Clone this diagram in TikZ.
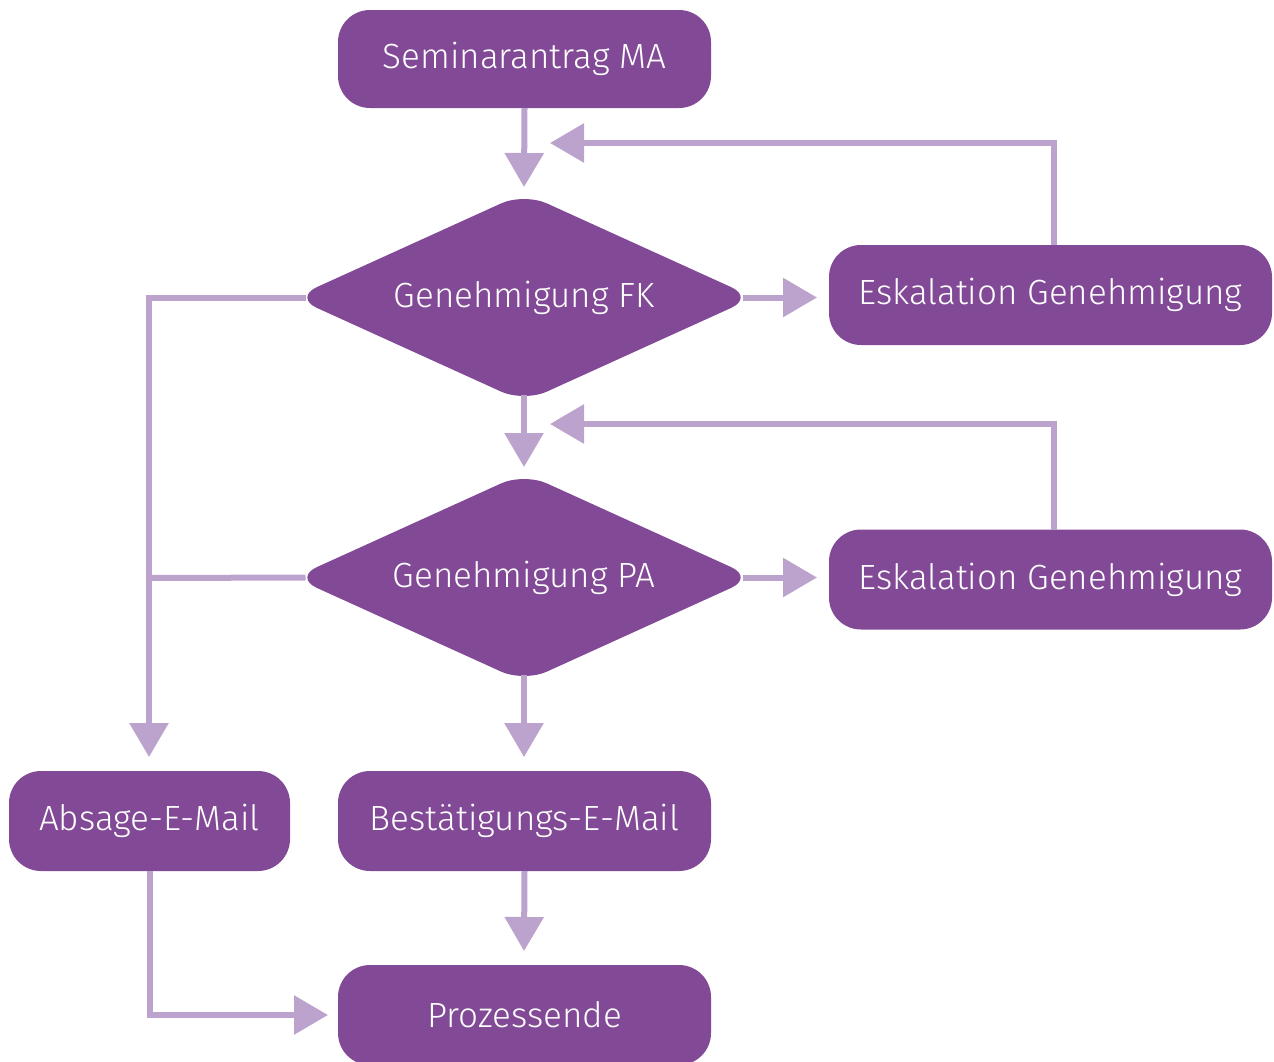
\documentclass[tikz,border=0pt]{standalone}
\usepackage{fontspec}
\setmainfont{Fira Sans}[UprightFont=* Light]
\usetikzlibrary{arrows.meta}
\definecolor{boxpurple}{HTML}{824A96}
\definecolor{linepurple}{HTML}{BBA3CD}
\begin{document}
\begin{tikzpicture}[x=1pt,y=-1pt,
  label text/.style={text=white,font=\fontsize{35}{40}\selectfont,inner sep=0pt,outer sep=0pt},
  box/.style={label text,fill=boxpurple,rounded corners=32pt},
  decision area/.style={label text,minimum width=437pt,minimum height=195pt},
  decision fill/.style={fill=boxpurple,rounded corners=25pt},
  flow/.style={draw=linepurple,line width=6pt,-{Triangle[length=34pt,width=38pt]}},
  plain/.style={draw=linepurple,line width=6pt}]
\useasboundingbox (0,0) rectangle (1274,1061);
% decision diamonds (filled shapes, labelled by the nodes below)
\path[decision fill] (294,297.5) -- (524,193) -- (754,297.5) -- (524,402) -- cycle;
\path[decision fill] (294,577.5) -- (524,473) -- (754,577.5) -- (524,682) -- cycle;
% process steps
\node[box,minimum width=373pt,minimum height=98pt] (start) at (524.5,59) {\raisebox{-2pt}{Seminarantrag MA}};
\node[decision area] (fk) at (524,297.5) {\raisebox{-2pt}{Genehmigung FK}};
\node[decision area] (pa) at (524,577.5) {\raisebox{-2pt}{Genehmigung PA}};
\node[box,minimum width=443pt,minimum height=100pt] (esk1) at (1050.5,295) {\raisebox{-2pt}{Eskalation Genehmigung}};
\node[box,minimum width=443pt,minimum height=100pt] (esk2) at (1050.5,579.5) {\raisebox{-2pt}{Eskalation Genehmigung}};
\node[box,minimum width=281pt,minimum height=100pt] (absage) at (149.5,821) {\raisebox{-2pt}{Absage-E-Mail}};
\node[box,minimum width=373pt,minimum height=100pt] (best) at (524.5,821) {\raisebox{-2pt}{Bestätigungs-E-Mail}};
\node[box,minimum width=373pt,minimum height=100pt] (ende) at (524.5,1015) {\raisebox{-2pt}{Prozessende}};
% free ends of the connectors
\coordinate (inFK) at (524,187);
\coordinate (inPA) at (524,467);
\coordinate (backFK) at (550,143);
\coordinate (backPA) at (550,424);
\coordinate (join) at (149,578);
% connectors
\draw[flow] (start.south) -- (inFK);
\draw[flow] (esk1.north -| 1054,0) |- (backFK);
\draw[flow] (fk.east) -- (817,297.5);
\draw[flow] (fk.south) -- (inPA);
\draw[flow] (esk2.north -| 1054,0) |- (backPA);
\draw[flow] (pa.east) -- (817,577.5);
\draw[flow] (fk.west) -| (149,757);
\draw[plain] (pa.west) -- (join);
\draw[flow] (pa.south) -- (524,757);
\draw[flow] (best.south) -- (524,951);
\draw[flow] (absage.south) |- (328,1015);
\end{tikzpicture}
\end{document}
